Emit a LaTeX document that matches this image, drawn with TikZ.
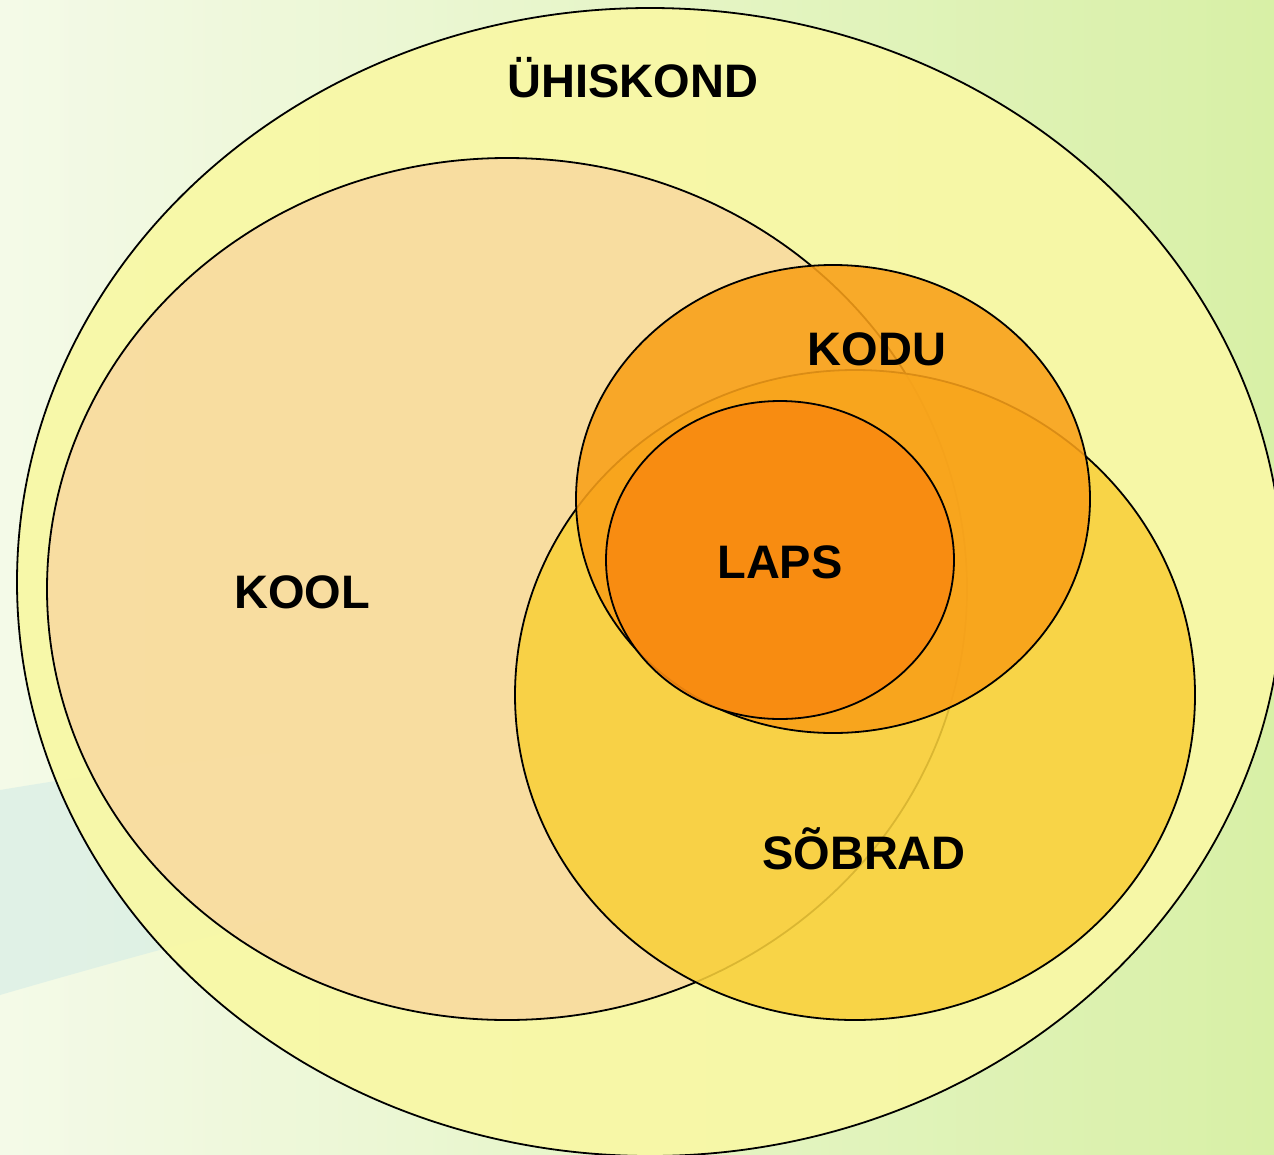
\documentclass[tikz,border=0pt]{standalone}
\usepackage{fontspec}
\setmainfont{Liberation Sans}
\definecolor{bgL}{HTML}{F4FAE8}
\definecolor{bgR}{HTML}{D8F0A6}
\definecolor{bandC}{HTML}{D4ECE6}
\definecolor{outerC}{HTML}{F8F8A6}
\definecolor{koolC}{HTML}{F9DAA0}
\definecolor{sobC}{HTML}{F9D03A}
\definecolor{koduC}{HTML}{F9A018}
\definecolor{lapsC}{HTML}{F88A10}
\tikzset{
  venn/.style={draw=black, line width=1.8pt, fill opacity=0.88},
  lbl/.style={font=\fontsize{47}{56}\selectfont\bfseries, text=black, inner sep=0pt, anchor=center}
}
\begin{document}
\begin{tikzpicture}[x=1pt,y=-1pt]
\useasboundingbox (0,0) rectangle (1274,1154);
% background
\shade[left color=bgL, right color=bgR] (0,0) rectangle (1274,1154);
\fill[bandC, opacity=0.6] (0,790) .. controls (150,765) and (250,755) .. (350,745) -- (350,900) .. controls (250,925) and (120,960) .. (0,995) -- cycle;
% ellipses
\path[venn, fill=outerC, fill opacity=0.95] (650,582) ellipse [x radius=633, y radius=574];
\path[venn, fill=koolC] (507,589) ellipse [x radius=460, y radius=431];
\path[venn, fill=sobC] (855,695) ellipse [x radius=340, y radius=325];
\path[venn, fill=koduC] (833,499) ellipse [x radius=257, y radius=234];
\path[venn, fill=lapsC, fill opacity=0.92] (780,560) ellipse [x radius=174, y radius=159];
% labels
\node[lbl] (uhis) at (633,78) {ÜHISKOND};
\node[lbl] (kool) at (302,592) {KOOL};
\node[lbl] (kodu) at (877,349) {KODU};
\node[lbl] (laps) at (780,562) {LAPS};
\node[lbl] (sob) at (864,849) {SÕBRAD};
\end{tikzpicture}
\end{document}
